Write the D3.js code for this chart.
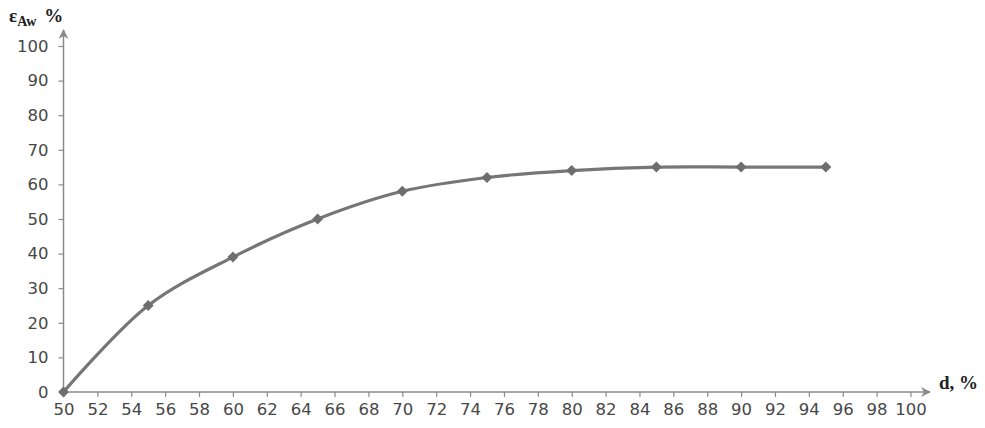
<!DOCTYPE html>
<html><head><meta charset="utf-8">
<script src="https://cdn.jsdelivr.net/npm/d3@7"></script>
<style>body{margin:0;background:#fff}</style>
</head><body>
<svg id="c" width="985" height="428"></svg>
<script>
const xValues = [50,55,60,65,70,75,80,85,90,95];
const yValues = [0,25,39,50,58,62,64,65,65,65];
const xTicks = d3.range(50,101,2);
const yTicks = d3.range(0,101,10);

const svg = d3.select("#c");
const x = d3.scaleLinear().domain([50,100]).range([63.5,910.5]);
const y = d3.scaleLinear().domain([0,100]).range([392,46]);
const axisColor = "#8a8a8a";
const textColor = "#474747";

// axes
const xa = svg.append("g").attr("transform","translate(0,392)")
  .call(d3.axisBottom(x).tickValues(xTicks).tickSize(5).tickSizeOuter(0).tickPadding(6));
xa.select(".domain").remove();
const ya = svg.append("g").attr("transform","translate(63.5,0)")
  .call(d3.axisLeft(y).tickValues(yTicks).tickSize(5).tickSizeOuter(0).tickPadding(10));
ya.select(".domain").remove();
[xa,ya].forEach(g=>{
  g.selectAll("line").attr("stroke",axisColor).attr("stroke-width",1.2);
  g.selectAll("text").attr("fill",textColor).style("font-family","DejaVu Sans, Verdana, sans-serif").style("font-size","16.5px");
});
ya.selectAll(".tick").filter(d=>d===0).select("line").remove();

// axis lines with arrows
svg.append("defs").append("marker").attr("id","arr").attr("viewBox","0 0 10 10")
  .attr("refX",9).attr("refY",5).attr("markerWidth",10).attr("markerHeight",10)
  .attr("markerUnits","userSpaceOnUse").attr("orient","auto")
  .append("path").attr("d","M0,0 L10,5 L0,10 L3,5 Z").attr("fill",axisColor);
svg.append("line").attr("x1",63.5).attr("x2",930).attr("y1",392).attr("y2",392)
  .attr("stroke",axisColor).attr("stroke-width",1.5).attr("marker-end","url(#arr)");
svg.append("line").attr("x1",63.5).attr("x2",63.5).attr("y1",392).attr("y2",30)
  .attr("stroke",axisColor).attr("stroke-width",1.5).attr("marker-end","url(#arr)");

// data line
const pts = xValues.map((v,i)=>[v,yValues[i]]);
svg.append("path").datum(pts)
  .attr("d", d3.line().x(d=>x(d[0])).y(d=>y(d[1])).curve(d3.curveCatmullRom.alpha(0.5)))
  .attr("fill","none").attr("stroke","#767676").attr("stroke-width",3.2);
svg.selectAll(".m").data(pts).enter().append("path")
  .attr("transform",d=>`translate(${x(d[0])},${y(d[1])})`)
  .attr("d","M0,-5.5 L5.5,0 L0,5.5 L-5.5,0 Z").attr("fill","#6e6e6e");

// axis titles
const yt = svg.append("text").attr("x",9).attr("y",22)
  .style("font-family","Liberation Serif, Times New Roman, serif").style("font-weight","bold")
  .style("font-size","19px").attr("fill","#222");
yt.append("tspan").text("ε");
yt.append("tspan").attr("dy",4).style("font-size","14px").text("Aw");
yt.append("tspan").attr("dy",-4).attr("dx",8).text("%");

svg.append("text").attr("x",939).attr("y",389)
  .style("font-family","Liberation Serif, Times New Roman, serif").style("font-weight","bold")
  .style("font-size","19px").attr("fill","#222").text("d, %");
</script>
</body></html>
